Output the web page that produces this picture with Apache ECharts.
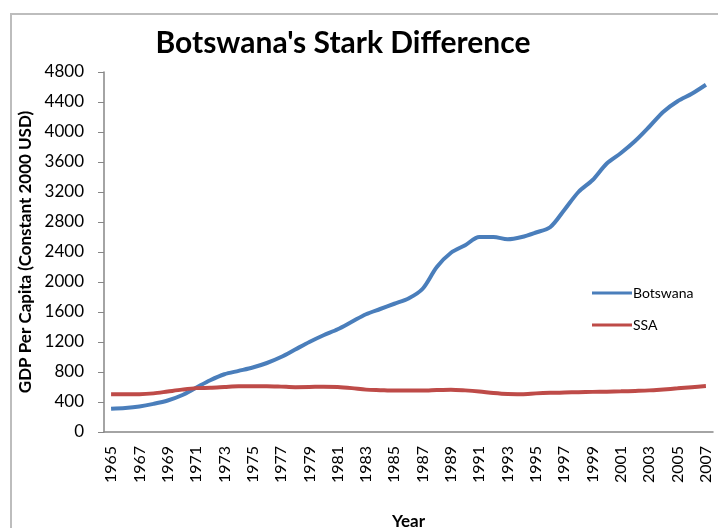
<!DOCTYPE html>
<html>
<head>
<meta charset="utf-8">
<script src="https://cdn.jsdelivr.net/npm/echarts@6/dist/echarts.min.js"></script>
<style>
  html, body { margin: 0; padding: 0; background: #fff; }
  #chart { width: 718px; height: 528px; }
</style>
</head>
<body>
<div id="chart"></div>
<script>
var years = [];
for (var y = 1965; y <= 2007; y++) years.push(String(y));

// GDP per capita, constant 2000 USD
var botswana = [310, 320, 340, 375, 420, 490, 590, 690, 770, 815, 860, 920, 1000, 1100, 1200,
  1290, 1370, 1470, 1570, 1640, 1710, 1780, 1910, 2200, 2390, 2490, 2600, 2600, 2570, 2600,
  2660, 2730, 2960, 3200, 3360, 3580, 3720, 3880, 4070, 4270, 4410, 4510, 4630];
var ssa = [505, 505, 505, 515, 540, 565, 585, 590, 600, 610, 610, 610, 605, 598, 600,
  605, 600, 585, 565, 558, 552, 555, 552, 560, 565, 555, 540, 520, 507, 505,
  515, 522, 528, 530, 535, 538, 542, 548, 555, 568, 582, 598, 612];

var font = 'Lato';
var myChart = echarts.init(document.getElementById('chart'));

myChart.setOption({
  animation: false,
  backgroundColor: '#fff',
  textStyle: { fontFamily: font },
  graphic: [{
    type: 'rect',
    shape: { x: 11, y: 14, width: 720, height: 530 },
    style: { fill: 'none', stroke: '#bdbdbd', lineWidth: 2 }
  }],
  title: {
    text: "Botswana's Stark Difference",
    left: 338,
    textAlign: 'center',
    top: 23,
    textStyle: { fontFamily: font, fontSize: 30, fontWeight: 'bold', color: '#000' }
  },
  legend: {
    orient: 'vertical',
    left: 587,
    top: 281,
    itemGap: 18,
    itemWidth: 40,
    itemHeight: 3,
    icon: 'rect',
    textStyle: { fontFamily: font, fontSize: 14, color: '#000', padding: [0, 0, 0, -4] },
    data: ['Botswana', 'SSA']
  },
  grid: { left: 104, right: 5, top: 72, bottom: 96, outerBoundsMode: 'none', containLabel: false },
  xAxis: {
    type: 'category',
    data: years,
    boundaryGap: true,
    name: 'Year',
    nameLocation: 'middle',
    nameGap: 81,
    nameTextStyle: { fontFamily: font, fontSize: 17, fontWeight: 'bold', color: '#000' },
    axisLine: { lineStyle: { color: '#868686', width: 1.5 } },
    axisTick: { interval: 0, length: 6, lineStyle: { color: '#868686' } },
    axisLabel: { interval: 1, rotate: 90, fontFamily: font, fontSize: 16, color: '#000', margin: 14 }
  },
  yAxis: {
    type: 'value',
    min: 0,
    max: 4800,
    interval: 400,
    name: 'GDP Per Capita (Constant 2000 USD)',
    nameLocation: 'middle',
    nameGap: 63,
    nameTextStyle: { fontFamily: font, fontSize: 17, fontWeight: 'bold', color: '#000' },
    axisLine: { show: true, lineStyle: { color: '#868686', width: 1.5 } },
    axisTick: { show: true, length: 6, lineStyle: { color: '#868686' } },
    splitLine: { show: false },
    axisLabel: {
      fontFamily: font, fontSize: 17, color: '#000', margin: 20,
      formatter: function (v) { return String(v); }
    }
  },
  series: [
    {
      name: 'Botswana',
      type: 'line',
      data: botswana,
      smooth: 0.3,
      symbol: 'none',
      itemStyle: { color: '#4a7ebb' },
      lineStyle: { color: '#4a7ebb', width: 4 }
    },
    {
      name: 'SSA',
      type: 'line',
      data: ssa,
      smooth: 0.3,
      symbol: 'none',
      itemStyle: { color: '#be4b48' },
      lineStyle: { color: '#be4b48', width: 4 }
    }
  ]
});
</script>
</body>
</html>
